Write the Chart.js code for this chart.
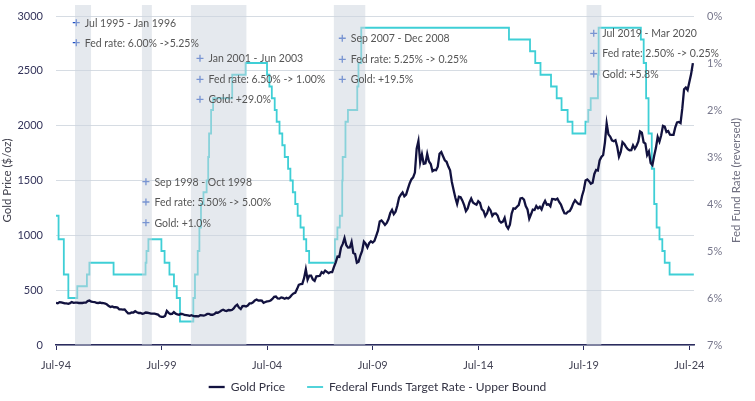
<!DOCTYPE html>
<html>
<head>
<meta charset="utf-8">
<script src="https://cdn.jsdelivr.net/npm/chart.js@4.4.1/dist/chart.umd.min.js"></script>
<style>
html, body { margin: 0; padding: 0; background: #fff; }
#wrap { width: 755px; height: 401px; }
</style>
</head>
<body>
<div id="wrap"><canvas id="chart"></canvas></div>
<script>
// Gold price, one value per month starting Jul 1994
const goldStart = 1994.5;
const goldPrice = [
    385, 380, 391, 389, 384, 379,
    379, 376, 382, 391, 385, 387, 386, 383, 383, 383, 386, 387,
    400, 405, 396, 393, 392, 385, 383, 387, 383, 381, 378, 369,
    355, 347, 352, 344, 344, 341, 324, 324, 323, 325, 306, 289,
    289, 297, 296, 308, 299, 292, 293, 284, 289, 296, 294, 291,
    287, 287, 286, 282, 277, 262, 256, 257, 265, 311, 293, 283,
    284, 300, 286, 280, 275, 285, 282, 274, 273, 270, 266, 272,
    265, 262, 263, 261, 272, 270, 268, 273, 283, 283, 276, 276,
    282, 296, 294, 302, 314, 321, 314, 310, 319, 317, 319, 333,
    356, 368, 341, 328, 355, 356, 351, 360, 379, 379, 389, 407,
    414, 405, 406, 404, 384, 392, 398, 400, 406, 420, 439, 442,
    424, 423, 434, 429, 422, 430, 424, 437, 456, 470, 476, 510,
    549, 555, 557, 610, 690, 596, 633, 632, 598, 585, 627, 629,
    631, 665, 655, 679, 667, 655, 665, 665, 712, 754, 806, 803,
    889, 922, 975, 909, 888, 889, 939, 839, 829, 750, 760, 816,
    858, 943, 924, 890, 928, 946, 934, 949, 996, 1043, 1127, 1135,
    1117, 1095, 1113, 1148, 1205, 1232, 1193, 1215, 1271, 1343, 1370, 1391,
    1356, 1372, 1424, 1473, 1510, 1529, 1572, 1790, 1860, 1666, 1739, 1652,
    1656, 1742, 1673, 1650, 1585, 1596, 1594, 1626, 1744, 1760, 1721, 1684,
    1671, 1627, 1593, 1487, 1414, 1343, 1286, 1352, 1348, 1316, 1275, 1221,
    1244, 1300, 1336, 1299, 1287, 1279, 1311, 1296, 1238, 1222, 1176, 1201,
    1251, 1227, 1178, 1198, 1199, 1181, 1131, 1117, 1125, 1159, 1086, 1062,
    1097, 1199, 1246, 1242, 1261, 1276, 1337, 1341, 1326, 1267, 1236, 1152,
    1192, 1235, 1231, 1267, 1246, 1260, 1236, 1283, 1315, 1280, 1283, 1265,
    1331, 1330, 1325, 1335, 1304, 1281, 1238, 1201, 1198, 1215, 1221, 1250,
    1291, 1320, 1301, 1286, 1283, 1359, 1413, 1500, 1510, 1494, 1470, 1480,
    1560, 1597, 1591, 1683, 1715, 1732, 1846, 2020, 1921, 1900, 1866, 1858,
    1867, 1808, 1718, 1760, 1850, 1834, 1807, 1785, 1775, 1776, 1821, 1790,
    1817, 1856, 1948, 1937, 1849, 1837, 1732, 1764, 1660, 1640, 1726, 1798,
    1897, 1855, 1913, 1999, 1992, 1942, 1951, 1918, 1916, 1916, 1985, 2030,
    2034, 2024, 2159, 2331, 2348, 2326, 2398, 2470, 2570
];

// Fed funds target (upper bound): date of each change and new rate
const fedDates = [
    '1994-07-01', '1994-08-16', '1994-11-15', '1995-02-01', '1995-07-06', '1995-12-19', '1996-01-31',
    '1997-03-25', '1998-09-29', '1998-10-15', '1998-11-17', '1999-06-30', '1999-08-24', '1999-11-16',
    '2000-02-02', '2000-03-21', '2000-05-16', '2001-01-03', '2001-01-31', '2001-03-20', '2001-04-18',
    '2001-05-15', '2001-06-27', '2001-08-21', '2001-09-17', '2001-10-02', '2001-11-06', '2001-12-11',
    '2002-11-06', '2003-06-25', '2004-06-30', '2004-08-10', '2004-09-21', '2004-11-10', '2004-12-14',
    '2005-02-02', '2005-03-22', '2005-05-03', '2005-06-30', '2005-08-09', '2005-09-20', '2005-11-01',
    '2005-12-13', '2006-01-31', '2006-03-28', '2006-05-10', '2006-06-29', '2007-09-18', '2007-10-31',
    '2007-12-11', '2008-01-22', '2008-01-30', '2008-03-18', '2008-04-30', '2008-10-08', '2008-10-29',
    '2008-12-16', '2015-12-16', '2016-12-14', '2017-03-15', '2017-06-14', '2017-12-13', '2018-03-21',
    '2018-06-13', '2018-09-26', '2018-12-19', '2019-07-31', '2019-09-18', '2019-10-30', '2020-03-03',
    '2020-03-15', '2022-03-16', '2022-05-04', '2022-06-15', '2022-07-27', '2022-09-21', '2022-11-02',
    '2022-12-14', '2023-02-01', '2023-03-22', '2023-05-03', '2023-07-26', '2024-09-17'
];
const fedRates = [
    4.25, 4.75, 5.50, 6.00, 5.75, 5.50, 5.25,
    5.50, 5.25, 5.00, 4.75, 5.00, 5.25, 5.50,
    5.75, 6.00, 6.50, 6.00, 5.50, 5.00, 4.50,
    4.00, 3.75, 3.50, 3.00, 2.50, 2.00, 1.75,
    1.25, 1.00, 1.25, 1.50, 1.75, 2.00, 2.25,
    2.50, 2.75, 3.00, 3.25, 3.50, 3.75, 4.00,
    4.25, 4.50, 4.75, 5.00, 5.25, 4.75, 4.50,
    4.25, 3.50, 3.00, 2.25, 2.00, 1.50, 1.00,
    0.25, 0.50, 0.75, 1.00, 1.25, 1.50, 1.75,
    2.00, 2.25, 2.50, 2.25, 2.00, 1.75, 1.25,
    0.25, 0.50, 1.00, 1.75, 2.50, 3.25, 4.00,
    4.50, 4.75, 5.00, 5.25, 5.50, 5.50
];

// Easing periods (decimal years, as shaded in the picture)
const bandFrom = [1995.40, 1998.57, 2000.89, 2007.66, 2019.63];
const bandTo   = [1996.16, 1999.04, 2003.52, 2009.15, 2020.33];

// Annotation notes: anchor (decimal year, gold scale) and text
const noteX = [1995.46, 1995.46, 2001.32, 2001.32, 2001.32, 1998.76, 1998.76, 1998.76,
               2008.06, 2008.06, 2008.06, 2019.97, 2019.97, 2019.97];
const noteY = [2939, 2757, 2614, 2423, 2240, 1489, 1304, 1115,
               2797, 2605, 2423, 2842, 2660, 2471];
const noteText = [
    'Jul 1995 - Jan 1996', 'Fed rate: 6.00% ->5.25%',
    'Jan 2001 - Jun 2003', 'Fed rate: 6.50% -> 1.00%', 'Gold: +29.0%',
    'Sep 1998 - Oct 1998', 'Fed rate: 5.50% -> 5.00%', 'Gold: +1.0%',
    'Sep 2007 - Dec 2008', 'Fed rate: 5.25% -> 0.25%', 'Gold: +19.5%',
    'Jul 2019 - Mar 2020', 'Fed rate: 2.50% -> 0.25%', 'Gold: +5.8%'
];

const xTickYears = [1994, 1999, 2004, 2009, 2014, 2019, 2024];
const xMin = 1994.5, xMax = 2024.72;

function toYear(s) {
    const d = new Date(s + 'T00:00:00Z');
    const y = d.getUTCFullYear();
    const start = Date.UTC(y, 0, 1);
    return y + (d - start) / (365.25 * 86400000);
}

const NAVY = '#12123f';
const CYAN = '#3fcfd6';
const FONT = 'Lato, "Open Sans", sans-serif';

const goldPoints = goldPrice.map((v, i) => ({ x: goldStart + i / 12, y: v }));
const fedPoints = fedDates.map((d, i) => ({ x: toYear(d), y: fedRates[i] }));
const notePoints = noteX.map((x, i) => ({ x: x, y: noteY[i] }));

// shaded periods go over the two lines, under the notes
const bandsPlugin = {
    id: 'bands',
    afterDatasetDraw(chart, args) {
        if (args.index !== 1) return;
        const ctx = chart.ctx, xs = chart.scales.x, area = chart.chartArea;
        ctx.save();
        ctx.fillStyle = 'rgba(205, 213, 223, 0.52)';
        for (let i = 0; i < bandFrom.length; i++) {
            const x0 = xs.getPixelForValue(bandFrom[i]);
            const x1 = xs.getPixelForValue(bandTo[i]);
            ctx.fillRect(x0, area.top - 11, x1 - x0, area.bottom - area.top + 11);
        }
        ctx.restore();
    }
};

const notesPlugin = {
    id: 'notes',
    afterInit(chart) {
        // shorter legend box, row drawn a little higher
        const lg = chart.legend;
        const fit = lg.fit, draw = lg.draw;
        lg.fit = function() { fit.call(this); this.height = 30; };
        lg.draw = function() {
            const top = this.top;
            this.top = top - 12;
            draw.call(this);
            this.top = top;
        };
    },
    afterDatasetsDraw(chart) {
        const ctx = chart.ctx, xs = chart.scales.x, ys = chart.scales.y;
        ctx.save();
        ctx.font = '10.5px ' + FONT;
        ctx.fillStyle = '#555555';
        ctx.textBaseline = 'middle';
        ctx.textAlign = 'left';
        noteText.forEach((t, i) => {
            ctx.fillText(t, xs.getPixelForValue(noteX[i]) + 8.5, ys.getPixelForValue(noteY[i]) + 0.5);
        });
        // right axis title, reading bottom to top
        const rs = chart.scales.y1;
        ctx.font = '11.5px ' + FONT;
        ctx.fillStyle = '#6f6f80';
        ctx.textAlign = 'center';
        ctx.translate(736, (rs.top + rs.bottom) / 2);
        ctx.rotate(-Math.PI / 2);
        ctx.fillText('Fed Fund Rate (reversed)', 0, 0);
        ctx.restore();
    }
};

new Chart(document.getElementById('chart').getContext('2d'), {
    type: 'line',
    data: {
        datasets: [{
            label: 'Gold Price',
            data: goldPoints,
            borderColor: NAVY,
            backgroundColor: NAVY,
            borderWidth: 2.3,
            pointRadius: 0,
            tension: 0,
            yAxisID: 'y'
        }, {
            label: 'Federal Funds Target Rate - Upper Bound',
            data: fedPoints,
            borderColor: CYAN,
            backgroundColor: CYAN,
            borderWidth: 1.8,
            pointRadius: 0,
            stepped: true,
            yAxisID: 'y1'
        }, {
            label: 'notes',
            type: 'scatter',
            data: notePoints,
            pointStyle: 'cross',
            pointRadius: 3.5,
            borderWidth: 1.3,
            borderColor: '#1d4fc4',
            backgroundColor: '#1d4fc4',
            yAxisID: 'y'
        }]
    },
    options: {
        responsive: true,
        maintainAspectRatio: false,
        animation: false,
        layout: { padding: { top: 16, left: 0, right: 0, bottom: 0 } },
        plugins: {
            tooltip: { enabled: false },
            legend: {
                position: 'bottom',
                labels: {
                    filter: item => item.text !== 'notes',
                    usePointStyle: true,
                    pointStyle: 'line',
                    pointStyleWidth: 16,
                    padding: 22,
                    color: '#333344',
                    font: { family: FONT, size: 12 }
                }
            }
        },
        scales: {
            x: {
                type: 'linear',
                min: xMin,
                max: xMax,
                afterBuildTicks: s => { s.ticks = xTickYears.map(y => ({ value: y + 0.5 })); },
                afterFit: s => { s.height = 26; },
                grid: { display: true, drawOnChartArea: false, drawTicks: true, tickLength: 5, color: '#2b2b5e' },
                border: { display: true, color: '#2b2b5e', width: 1.5 },
                ticks: {
                    autoSkip: false,
                    maxRotation: 0,
                    padding: 9,
                    color: '#444455',
                    font: { family: FONT, size: 11 },
                    callback: v => 'Jul-' + String(Math.round(v - 0.5)).slice(2)
                }
            },
            y: {
                position: 'left',
                min: 0,
                max: 3000,
                afterFit: s => { s.width = 56; },
                grid: { color: '#d6dce3', lineWidth: 1, drawTicks: true, tickLength: 12, tickColor: 'rgba(0,0,0,0)' },
                border: { display: false },
                ticks: {
                    stepSize: 500,
                    padding: 1,
                    color: '#33335a',
                    font: { family: FONT, size: 11 },
                    callback: v => String(v)
                },
                title: {
                    display: true,
                    text: 'Gold Price ($/oz)',
                    color: '#444450',
                    padding: 0,
                    font: { family: FONT, size: 11.5 }
                }
            },
            y1: {
                position: 'right',
                min: 0,
                max: 7,
                reverse: true,
                afterFit: s => { s.width = 61; },
                grid: { display: true, drawOnChartArea: false, drawTicks: true, tickLength: 12, tickColor: 'rgba(0,0,0,0)' },
                border: { display: false },
                ticks: {
                    stepSize: 1,
                    padding: 1,
                    color: '#77778c',
                    font: { family: FONT, size: 11 },
                    callback: v => v + '%'
                }
            }
        }
    },
    plugins: [bandsPlugin, notesPlugin]
});
</script>
</body>
</html>
